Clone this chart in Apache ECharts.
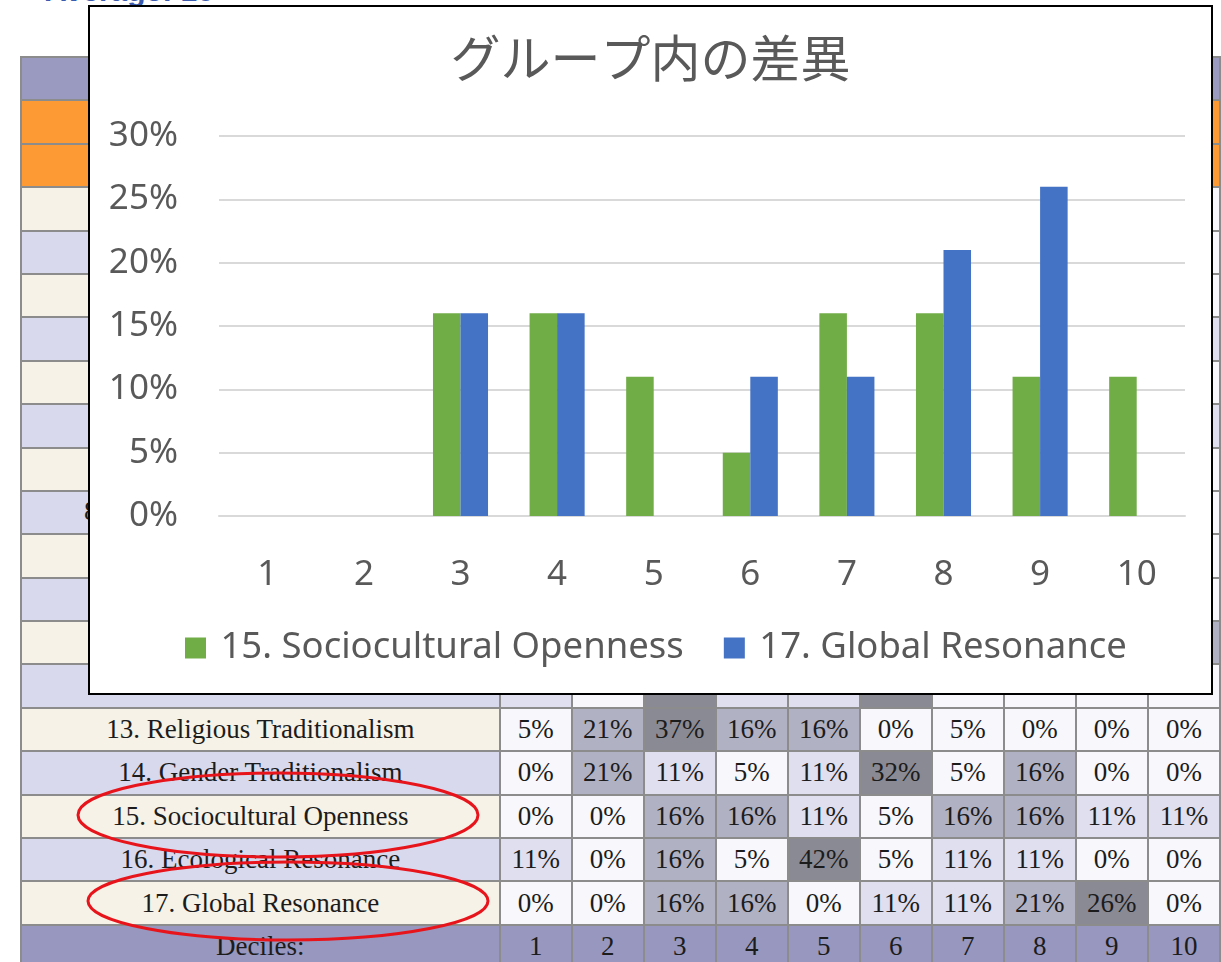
<!DOCTYPE html>
<html>
<head>
<meta charset="utf-8">
<script src="https://cdn.jsdelivr.net/npm/echarts@6/dist/echarts.min.js"></script>
<style>
  html, body { margin: 0; padding: 0; background: #fff; }
  body { width: 1221px; height: 962px; position: relative; overflow: hidden; }
  #avg {
    position: absolute; left: 45px; top: -24px;
    font: bold 30px 'Liberation Sans', Arial, sans-serif; line-height: 30px;
    color: #3b5bae; white-space: nowrap;
  }
  #tbl {
    position: absolute; left: 20px; top: 56px;
    border-collapse: collapse; table-layout: fixed;
    font-family: 'Liberation Serif', serif; font-size: 27px; color: #1c1c1c;
  }
  #tbl td {
    border: 2px solid #8c8c8c; height: 41.4px; padding: 0;
    text-align: center; white-space: nowrap; overflow: hidden;
  }
  #eight {
    position: absolute; left: 84px; top: 496px;
    font-family: 'Liberation Serif', serif; font-size: 27px; color: #1c1c1c;
  }
  #chartBox {
    position: absolute; left: 88px; top: 5px; width: 1125px; height: 690px;
    border: 2px solid #000; box-sizing: border-box; background: #fff;
  }
  #chart { width: 100%; height: 100%; }
  #marks { position: absolute; left: 0; top: 0; }
</style>
</head>
<body>
<div id="avg">Average: 10</div>
<table id="tbl"></table>
<div id="eight">8. </div>
<svg id="marks" width="1221" height="962">
  <ellipse cx="278" cy="815" rx="200" ry="42" fill="none" stroke="#e8141b" stroke-width="3"/>
  <ellipse cx="288" cy="901" rx="200" ry="39" fill="none" stroke="#e8141b" stroke-width="3"/>
</svg>
<div id="chartBox"><div id="chart"></div></div>
<script>
// chart data
var deciles = ['1', '2', '3', '4', '5', '6', '7', '8', '9', '10']
var socioOpenness = [0, 0, 16, 16, 11, 5, 16, 16, 11, 11]
var globalResonance = [0, 0, 16, 16, 0, 11, 11, 21, 26, 0]
var seriesNames = ['15. Sociocultural Openness', '17. Global Resonance']

// table rows visible under the chart
var tableLabels = ['13. Religious Traditionalism', '14. Gender Traditionalism',
  '15. Sociocultural Openness', '16. Ecological Resonance', '17. Global Resonance']
var tableValues = [
  [5, 21, 37, 16, 16, 0, 5, 0, 0, 0],
  [0, 21, 11, 5, 11, 32, 5, 16, 0, 0],
  [0, 0, 16, 16, 11, 5, 16, 16, 11, 11],
  [11, 0, 16, 5, 42, 5, 11, 11, 0, 0],
  [0, 0, 16, 16, 0, 11, 11, 21, 26, 0]
]
// rows 1-12 are mostly hidden; only last column / bottom strip shows
var hiddenLastCol = [0, 0, 0, 11, 0, 11, 0, 0, 0, 0, 16, 0]
var row12Values = [11, 0, 32, 11, 11, 32, 0, 0, 0, 0]

function shade (v) {
  if (v >= 26) return '#8a8a95'
  if (v >= 16) return '#b1b1c4'
  if (v >= 11) return '#dfdff0'
  return '#f7f7fc'
}

function buildTable () {
  var t = document.getElementById('tbl')
  var html = '<colgroup><col style="width:480px">'
  for (var c = 0; c < 10; c++) html += '<col style="width:72.2px">'
  html += '</colgroup>'
  html += '<tr><td colspan="11" style="background:#9a9ac0"></td></tr>'
  html += '<tr><td colspan="11" style="background:#fe9a33"></td></tr>'
  html += '<tr><td colspan="11" style="background:#fe9a33"></td></tr>'
  for (var r = 1; r <= 17; r++) {
    var bg = r % 2 === 1 ? '#f6f2e7' : '#d9d9ee'
    var label = ''
    var vals = null
    if (r >= 13) { label = tableLabels[r - 13]; vals = tableValues[r - 13] }
    html += '<tr><td style="background:' + bg + '">' + label + '</td>'
    for (var k = 0; k < 10; k++) {
      var v = 0
      var txt = ''
      if (vals) { v = vals[k]; txt = v + '%' }
      else if (r === 12) v = row12Values[k]
      else if (k === 9) v = hiddenLastCol[r - 1]
      html += '<td style="background:' + shade(v) + '">' + txt + '</td>'
    }
    html += '</tr>'
  }
  html += '<tr><td style="background:#9797bf">Deciles:</td>'
  deciles.forEach(function (d) {
    html += '<td style="background:#9797bf">' + d + '</td>'
  })
  html += '</tr>'
  t.innerHTML = html
}
buildTable()

var myChart = echarts.init(document.getElementById('chart'))
myChart.setOption({
  animation: false,
  textStyle: { fontFamily: "'Noto Sans', sans-serif" },
  title: {
    text: 'グループ内の差異',
    left: 'center',
    top: 22,
    padding: 0,
    textStyle: {
      fontFamily: "'Noto Sans CJK JP', sans-serif",
      fontSize: 50,
      fontWeight: 'normal',
      lineHeight: 58,
      color: '#595959'
    }
  },
  legend: {
    data: seriesNames,
    left: 95,
    top: 620,
    padding: 0,
    icon: 'rect',
    itemWidth: 21,
    itemHeight: 21,
    itemGap: 40,
    formatter: function (name) { return ' ' + name },
    textStyle: { fontSize: 36.5, lineHeight: 42, color: '#595959' }
  },
  grid: { left: 129, right: 26, top: 129, bottom: 177 },
  xAxis: {
    type: 'category',
    data: deciles,
    axisLine: { lineStyle: { color: '#d9d9d9', width: 2 } },
    axisTick: { show: false },
    axisLabel: { fontSize: 35, color: '#595959', margin: 42 }
  },
  yAxis: {
    type: 'value',
    min: 0,
    max: 30,
    interval: 5,
    axisLine: { show: false },
    axisTick: { show: false },
    splitLine: { lineStyle: { color: '#d9d9d9', width: 2 } },
    axisLabel: { fontSize: 35, color: '#595959', margin: 41, formatter: '{value}%' }
  },
  series: [
    {
      name: seriesNames[0],
      type: 'bar',
      data: socioOpenness,
      barGap: '0%',
      barCategoryGap: '43%',
      itemStyle: { color: '#70ad47' }
    },
    {
      name: seriesNames[1],
      type: 'bar',
      data: globalResonance,
      itemStyle: { color: '#4472c4' }
    }
  ]
})
</script>
</body>
</html>
